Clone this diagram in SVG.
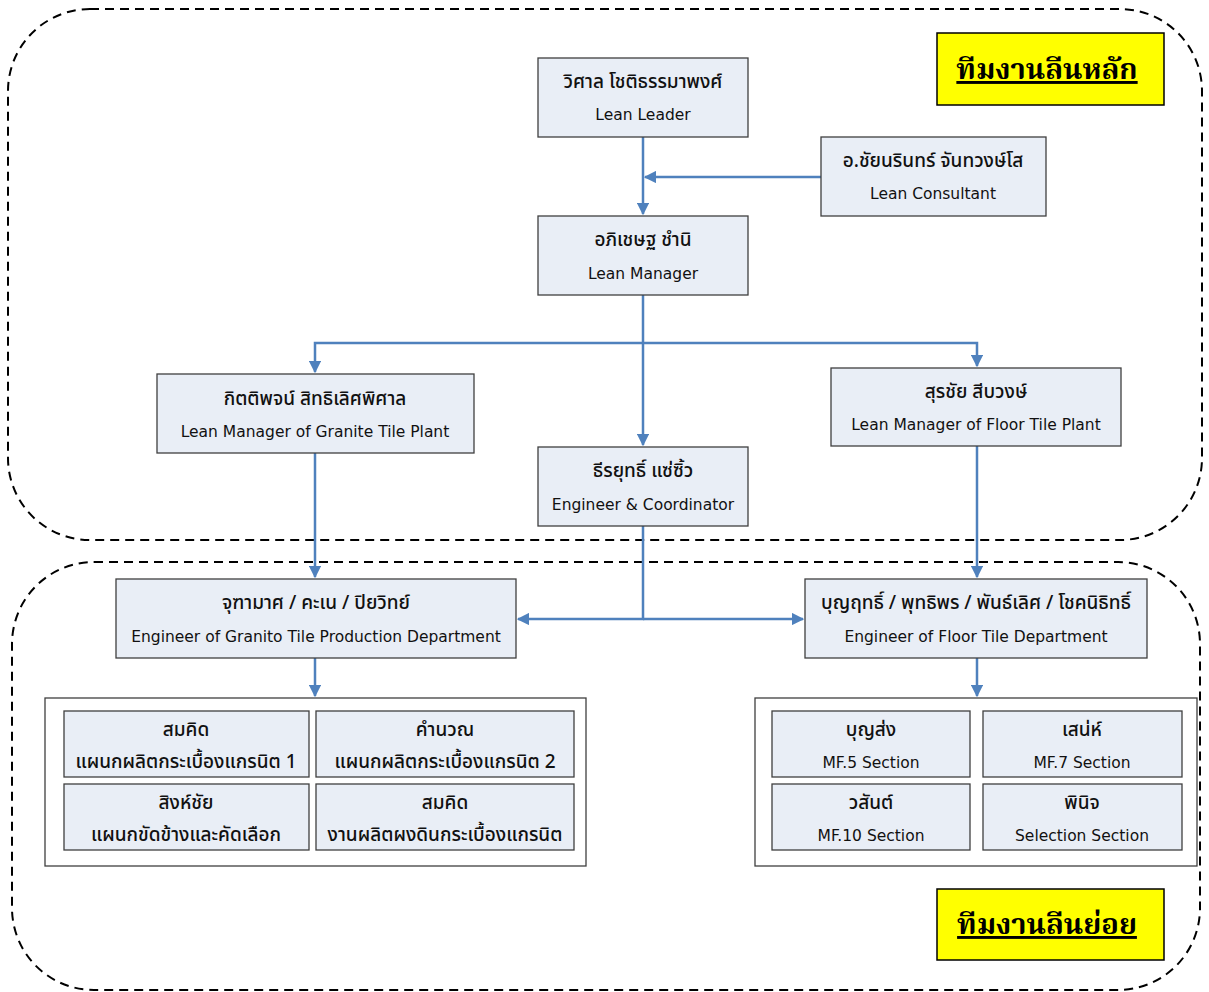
<svg xmlns="http://www.w3.org/2000/svg" width="1209" height="992" viewBox="0 0 1209 992">
  <style>
    .zone { fill: none; stroke: #000; stroke-width: 2; stroke-dasharray: 9 6; }
    .box { fill: #E9EEF6; stroke: #3F3F3F; stroke-width: 1.3; }
    .group { fill: #FFFFFF; stroke: #3F3F3F; stroke-width: 1.3; }
    .th { font-family: "Tahoma", "Noto Sans Thai", "Noto Sans", "DejaVu Sans", sans-serif; font-size: 19px; font-weight: 500; fill: #111; text-anchor: middle; }
    .en { font-family: "DejaVu Sans", "Liberation Sans", sans-serif; font-size: 15.5px; fill: #111; text-anchor: middle; }
    .tag { fill: #FFFF00; stroke: #000; stroke-width: 1.5; }
    .tagtxt { font-family: "Noto Serif Thai", "Noto Sans Thai", "DejaVu Sans", serif; font-size: 29px; font-weight: bold; text-decoration: underline; fill: #000; text-anchor: middle; }
    .link { fill: none; stroke: #4F81BD; stroke-width: 2.5; }
  </style>
  <defs>
    <marker id="arrow" viewBox="0 0 10 10" refX="9" refY="5" markerWidth="5" markerHeight="5" orient="auto" markerUnits="strokeWidth">
      <path d="M0,0 L10,5 L0,10 z" fill="#4F81BD"/>
    </marker>
  </defs>

  <rect width="1209" height="992" fill="#FFFFFF"/>

  <!-- team zones -->
  <rect class="zone" x="8" y="9" width="1194" height="531" rx="82" ry="82"/>
  <rect class="zone" x="12" y="562" width="1188" height="428" rx="82" ry="82"/>

  <!-- zone labels -->
  <g id="label-main">
    <rect class="tag" x="937" y="33" width="227" height="72"/>
    <text class="tagtxt" x="1047" y="79">ทีมงานลีนหลัก</text>
  </g>
  <g id="label-sub">
    <rect class="tag" x="937" y="889" width="227" height="71"/>
    <text class="tagtxt" x="1047" y="934">ทีมงานลีนย่อย</text>
  </g>

  <!-- connectors -->
  <g id="connectors">
    <path class="link" d="M643,137 V214" marker-end="url(#arrow)"/>
    <path class="link" d="M821,177 H645" marker-end="url(#arrow)"/>
    <path class="link" d="M643,295 V445" marker-end="url(#arrow)"/>
    <path class="link" d="M643,343 H315 V372" marker-end="url(#arrow)"/>
    <path class="link" d="M643,343 H977 V366" marker-end="url(#arrow)"/>
    <path class="link" d="M315,453 V577" marker-end="url(#arrow)"/>
    <path class="link" d="M977,446 V577" marker-end="url(#arrow)"/>
    <path class="link" d="M643,526 V619 H518" marker-end="url(#arrow)"/>
    <path class="link" d="M643,619 H803" marker-end="url(#arrow)"/>
    <path class="link" d="M315,658 V696" marker-end="url(#arrow)"/>
    <path class="link" d="M977,658 V696" marker-end="url(#arrow)"/>
  </g>

  <g id="lean-leader">
    <rect class="box" x="538" y="58" width="210" height="79"/>
    <text class="th" x="643" y="88">วิศาล โชติธรรมาพงศ์</text>
    <text class="en" x="643" y="120">Lean Leader</text>
  </g>
  <g id="lean-consultant">
    <rect class="box" x="821" y="137" width="225" height="79"/>
    <text class="th" x="933" y="167">อ.ชัยนรินทร์ จันทวงษ์โส</text>
    <text class="en" x="933" y="199">Lean Consultant</text>
  </g>
  <g id="lean-manager">
    <rect class="box" x="538" y="216" width="210" height="79"/>
    <text class="th" x="643" y="246">อภิเชษฐ ชำนิ</text>
    <text class="en" x="643" y="279">Lean Manager</text>
  </g>
  <g id="granite-plant">
    <rect class="box" x="157" y="374" width="317" height="79"/>
    <text class="th" x="315" y="405">กิตติพจน์ สิทธิเลิศพิศาล</text>
    <text class="en" x="315" y="437">Lean Manager of Granite Tile Plant</text>
  </g>
  <g id="floor-plant">
    <rect class="box" x="831" y="368" width="290" height="78"/>
    <text class="th" x="976" y="398">สุรชัย สีบวงษ์</text>
    <text class="en" x="976" y="430">Lean Manager of Floor Tile Plant</text>
  </g>
  <g id="coordinator">
    <rect class="box" x="538" y="447" width="210" height="79"/>
    <text class="th" x="643" y="477">ธีรยุทธิ์ แซ่ซิ้ว</text>
    <text class="en" x="643" y="510">Engineer &amp; Coordinator</text>
  </g>
  <g id="granito-dept">
    <rect class="box" x="116" y="579" width="400" height="79"/>
    <text class="th" x="316" y="609">จุฑามาศ / คะเน / ปิยวิทย์</text>
    <text class="en" x="316" y="642">Engineer of Granito Tile Production Department</text>
  </g>
  <g id="floor-dept">
    <rect class="box" x="805" y="579" width="342" height="79"/>
    <text class="th" x="976" y="609">บุญฤทธิ์ / พุทธิพร / พันธ์เลิศ / โชคนิธิทธิ์</text>
    <text class="en" x="976" y="642">Engineer of Floor Tile Department</text>
  </g>

  <g id="granite-sections">
    <rect class="group" x="45" y="698" width="541" height="168"/>
    <g id="granite-line1">
      <rect class="box" x="64" y="711" width="245" height="66"/>
      <text class="th" x="186" y="736">สมคิด</text>
      <text class="th" x="186" y="768">แผนกผลิตกระเบื้องแกรนิต 1</text>
    </g>
    <g id="granite-line2">
      <rect class="box" x="316" y="711" width="258" height="66"/>
      <text class="th" x="445" y="736">คำนวณ</text>
      <text class="th" x="445" y="768">แผนกผลิตกระเบื้องแกรนิต 2</text>
    </g>
    <g id="granite-polish">
      <rect class="box" x="64" y="784" width="245" height="66"/>
      <text class="th" x="186" y="809">สิงห์ชัย</text>
      <text class="th" x="186" y="841">แผนกขัดข้างและคัดเลือก</text>
    </g>
    <g id="granite-powder">
      <rect class="box" x="316" y="784" width="258" height="66"/>
      <text class="th" x="445" y="809">สมคิด</text>
      <text class="th" x="445" y="841">งานผลิตผงดินกระเบื้องแกรนิต</text>
    </g>
  </g>

  <g id="floor-sections">
    <rect class="group" x="755" y="698" width="442" height="168"/>
    <g id="mf5">
      <rect class="box" x="772" y="711" width="198" height="66"/>
      <text class="th" x="871" y="736">บุญส่ง</text>
      <text class="en" x="871" y="768">MF.5 Section</text>
    </g>
    <g id="mf7">
      <rect class="box" x="983" y="711" width="199" height="66"/>
      <text class="th" x="1082" y="736">เสน่ห์</text>
      <text class="en" x="1082" y="768">MF.7 Section</text>
    </g>
    <g id="mf10">
      <rect class="box" x="772" y="784" width="198" height="66"/>
      <text class="th" x="871" y="809">วสันต์</text>
      <text class="en" x="871" y="841">MF.10 Section</text>
    </g>
    <g id="selection">
      <rect class="box" x="983" y="784" width="199" height="66"/>
      <text class="th" x="1082" y="809">พินิจ</text>
      <text class="en" x="1082" y="841">Selection Section</text>
    </g>
  </g>
</svg>
